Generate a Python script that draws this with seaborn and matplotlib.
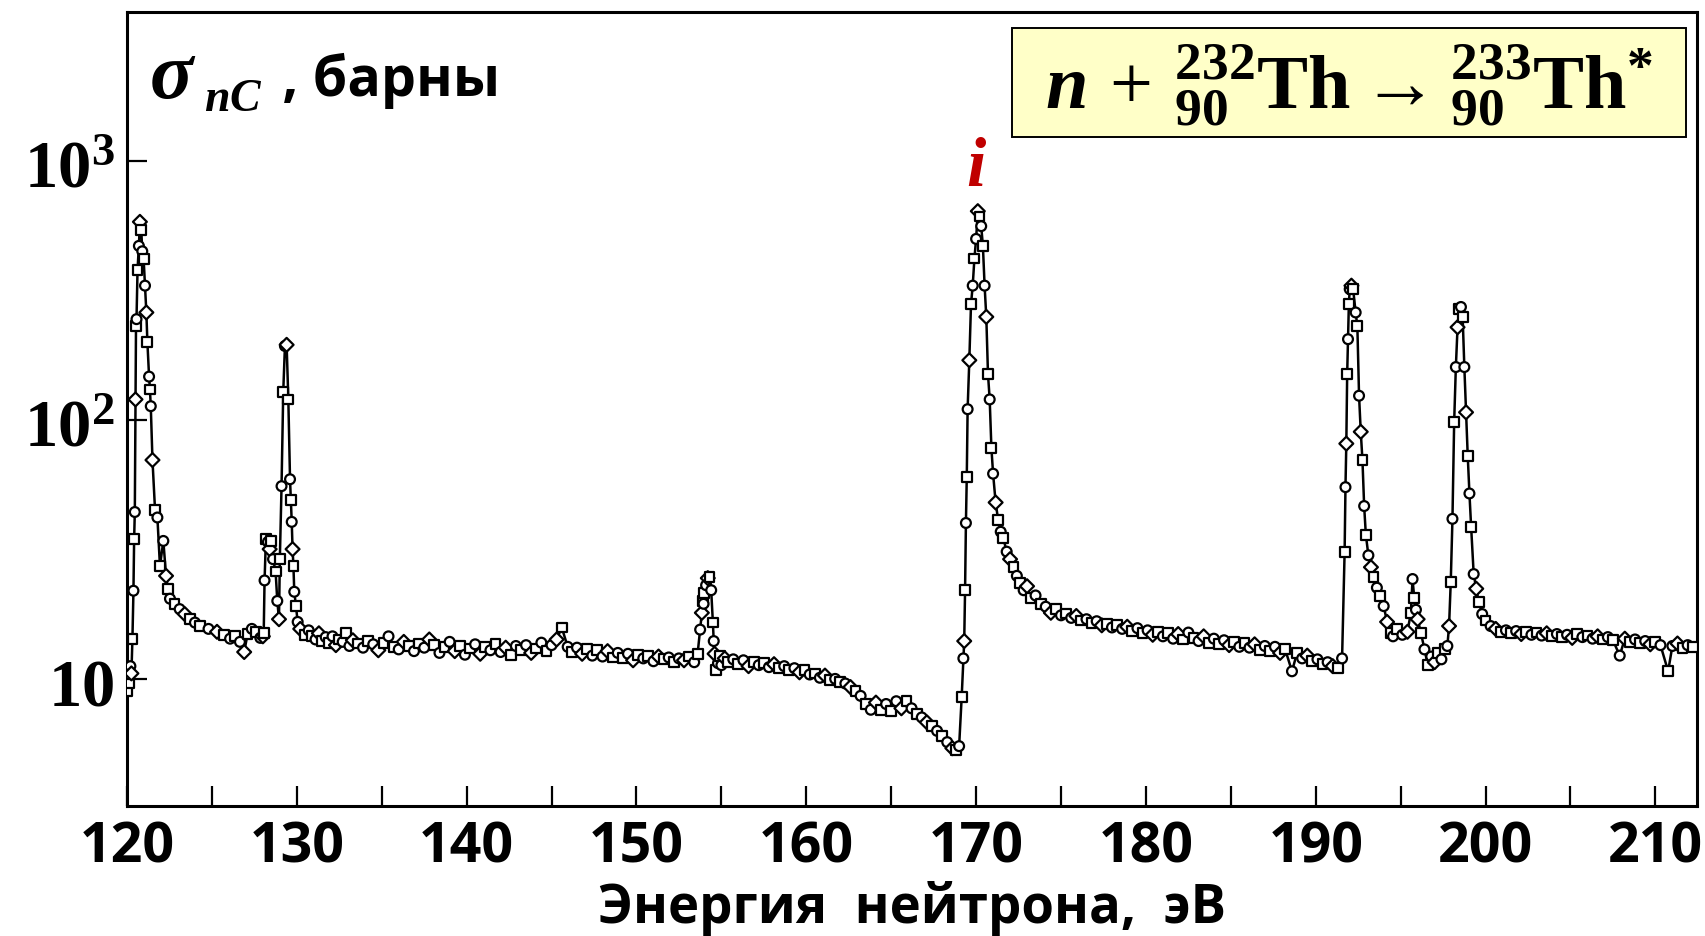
import matplotlib
matplotlib.use('Agg')
import matplotlib.pyplot as plt
from matplotlib.patches import Rectangle
from matplotlib.ticker import NullLocator, FixedLocator
import pandas as pd
import seaborn as sns

# energy, eV
energy = [
    120.02, 120.08, 120.14, 120.2, 120.26, 120.32, 120.38, 120.42, 120.46, 120.5,
    120.53, 120.56, 120.62, 120.7, 120.76, 120.84, 120.9, 120.98, 121.06, 121.14,
    121.2, 121.3, 121.35, 121.4, 121.5, 121.65, 121.79, 121.94, 122.14, 122.3,
    122.41, 122.53, 122.8, 123.1, 123.4, 123.7, 124.0, 124.3, 124.8, 125.3,
    125.7, 126.07, 126.35, 126.65, 126.9, 127.1, 127.35, 127.6, 127.85, 128.0,
    128.05, 128.1, 128.18, 128.3, 128.4, 128.5, 128.6, 128.75, 128.85, 128.95,
    129.0, 129.1, 129.2, 129.3, 129.4, 129.5, 129.6, 129.65, 129.7, 129.75,
    129.8, 129.85, 129.95, 130.05, 130.2, 130.5, 130.7, 130.9, 131.1, 131.3,
    131.5, 131.7, 131.9, 132.1, 132.3, 132.5, 132.7, 132.9, 133.1, 133.3,
    133.6, 133.9, 134.2, 134.5, 134.8, 135.1, 135.4, 135.7, 136.0, 136.3,
    136.6, 136.9, 137.2, 137.5, 137.8, 138.1, 138.4, 138.7, 139.0, 139.3,
    139.6, 139.9, 140.2, 140.5, 140.8, 141.1, 141.4, 141.7, 142.0, 142.3,
    142.6, 142.9, 143.2, 143.5, 143.8, 144.1, 144.4, 144.7, 145.0, 145.3,
    145.6, 145.95, 146.2, 146.5, 146.8, 147.1, 147.4, 147.7, 148.0, 148.3,
    148.6, 148.9, 149.2, 149.5, 149.8, 150.1, 150.4, 150.7, 151.0, 151.3,
    151.6, 151.9, 152.2, 152.5, 152.8, 153.1, 153.4, 153.6, 153.75, 153.85,
    153.9, 153.95, 154.0, 154.1, 154.2, 154.3, 154.4, 154.5, 154.55, 154.6,
    154.7, 154.8, 154.9, 155.0, 155.2, 155.4, 155.7, 156.0, 156.3, 156.6,
    156.9, 157.2, 157.5, 157.8, 158.1, 158.4, 158.7, 159.0, 159.3, 159.6,
    159.9, 160.2, 160.5, 160.8, 161.1, 161.4, 161.7, 162.0, 162.3, 162.6,
    162.9, 163.2, 163.5, 163.8, 164.1, 164.4, 164.7, 165.0, 165.3, 165.6,
    165.9, 166.2, 166.5, 166.8, 167.1, 167.4, 167.7, 168.0, 168.3, 168.6,
    168.8, 169.0, 169.15, 169.25, 169.3, 169.35, 169.4, 169.45, 169.5, 169.6,
    169.7, 169.8, 169.9, 170.0, 170.1, 170.2, 170.3, 170.4, 170.5, 170.6,
    170.7, 170.8, 170.9, 171.0, 171.15, 171.3, 171.45, 171.6, 171.8, 172.0,
    172.2, 172.4, 172.6, 172.8, 173.0, 173.2, 173.5, 173.8, 174.1, 174.4,
    174.7, 175.0, 175.3, 175.6, 175.9, 176.2, 176.5, 176.8, 177.1, 177.4,
    177.7, 178.0, 178.3, 178.6, 178.9, 179.2, 179.5, 179.8, 180.1, 180.4,
    180.7, 181.0, 181.3, 181.6, 181.9, 182.2, 182.5, 182.8, 183.1, 183.4,
    183.7, 184.0, 184.3, 184.6, 184.9, 185.2, 185.5, 185.8, 186.1, 186.4,
    186.7, 187.0, 187.3, 187.6, 187.9, 188.2, 188.6, 188.9, 189.2, 189.5,
    189.8, 190.1, 190.4, 190.7, 191.0, 191.3, 191.55, 191.7, 191.75, 191.8,
    191.85, 191.9, 191.95, 192.0, 192.1, 192.2, 192.35, 192.45, 192.55, 192.65,
    192.75, 192.85, 192.95, 193.1, 193.25, 193.4, 193.6, 193.8, 194.0, 194.2,
    194.4, 194.55, 194.8, 195.1, 195.4, 195.6, 195.7, 195.8, 195.9, 196.0,
    196.2, 196.4, 196.6, 196.8, 197.0, 197.2, 197.4, 197.6, 197.75, 197.85,
    197.95, 198.05, 198.15, 198.25, 198.35, 198.45, 198.55, 198.65, 198.75, 198.85,
    198.95, 199.05, 199.15, 199.3, 199.45, 199.6, 199.8, 200.0, 200.3, 200.6,
    200.9, 201.2, 201.5, 201.8, 202.1, 202.4, 202.7, 203.0, 203.3, 203.6,
    203.9, 204.2, 204.5, 204.8, 205.1, 205.4, 205.7, 206.0, 206.3, 206.6,
    206.9, 207.2, 207.5, 207.9, 208.2, 208.5, 208.8, 209.1, 209.4, 209.7,
    210.0, 210.3, 210.75, 211.0, 211.3, 211.6, 211.9, 212.2,
]

# capture cross section, barn
sigma = [
    9.0, 10.3, 9.6, 11.2, 10.5, 14.3, 21.9, 34.7, 44.1, 120,
    230, 245, 380, 470, 582, 540, 448, 418, 330, 260,
    200, 147, 131, 113, 70, 45, 42, 27.3, 34.1, 25.0,
    22.3, 20.4, 19.5, 18.6, 17.8, 17.0, 16.5, 16.0, 15.6, 15.2,
    14.8, 14.3, 14.6, 13.9, 12.7, 14.9, 15.6, 15.2, 14.4, 14.6,
    15.0, 24, 34.7, 33.8, 31.7, 34, 29, 26, 20, 17,
    29, 55.5, 128, 193, 195, 120, 59, 49, 40.4, 31.7,
    27.3, 21.7, 19.1, 16.6, 15.6, 14.8, 15.4, 14.6, 14.2, 15.0,
    14.0, 14.5, 13.8, 14.6, 13.5, 14.2, 13.9, 15.0, 13.4, 14.1,
    13.7, 13.2, 14.0, 13.6, 12.9, 13.8, 14.6, 13.3, 13.0, 13.9,
    13.4, 12.8, 13.7, 13.2, 14.2, 13.5, 12.6, 13.3, 13.9, 12.8,
    13.4, 12.4, 13.1, 13.6, 12.5, 13.3, 12.9, 13.6, 12.7, 13.2,
    12.4, 13.4, 12.9, 13.5, 12.6, 13.1, 13.8, 12.8, 13.5, 14.2,
    15.8, 13.3, 12.7, 13.2, 12.5, 13.0, 12.3, 12.9, 12.2, 12.8,
    12.1, 12.6, 12.0, 12.5, 11.8, 12.4, 12.0, 12.3, 11.7, 12.2,
    11.9, 12.1, 11.6, 12.0, 11.8, 12.2, 11.6, 12.5, 15.5, 18.0,
    20.0, 19.5, 21.5, 23.0, 24.5, 24.8, 22.0, 16.5, 14.0, 12.5,
    10.8, 11.5, 12.3, 11.3, 12.0, 11.6, 11.9, 11.4, 11.8, 11.2,
    11.6, 11.3, 11.5, 11.1, 11.4, 11.0, 11.2, 10.8, 11.0, 10.6,
    10.8, 10.4, 10.5, 10.1, 10.3, 9.9, 10.0, 9.7, 9.6, 9.3,
    9.0, 8.6, 8.0, 7.6, 8.1, 7.6, 8.0, 7.5, 8.2, 7.7,
    8.2, 7.7, 7.3, 7.1, 6.8, 6.6, 6.3, 6.0, 5.7, 5.4,
    5.3, 5.5, 8.5, 12.0, 14.0, 22.0, 40, 60, 110, 170,
    280, 330, 420, 500, 640, 610, 560, 470, 330, 250,
    150, 120, 78, 62, 48, 41, 37, 35, 31, 29,
    27, 25, 23.5, 22.0, 22.8, 20.5, 21.0, 19.5, 19.0, 18.0,
    18.6, 17.6, 17.9, 17.2, 17.5, 16.8, 17.0, 16.4, 16.7, 16.1,
    16.3, 15.8, 16.2, 15.6, 15.9, 15.3, 15.7, 15.0, 15.4, 14.8,
    15.2, 14.6, 15.0, 14.3, 14.9, 14.2, 15.1, 14.4, 14.0, 14.6,
    13.8, 14.3, 13.6, 14.1, 13.5, 13.9, 13.3, 13.8, 13.2, 13.6,
    12.9, 13.4, 12.8, 13.3, 12.6, 13.0, 10.7, 12.6, 12.0, 12.3,
    11.7, 11.9, 11.4, 11.6, 11.2, 11.0, 12.0, 31, 55, 81,
    150, 205, 280, 320, 330, 320, 260, 230, 124, 90,
    70, 46.5, 36, 30, 27, 24.8, 22.5, 20.9, 19.1, 16.6,
    15.0, 14.6, 15.6, 14.8, 15.2, 18.0, 24.3, 20.5, 18.5, 17.0,
    15.0, 13.0, 11.3, 12.2, 11.6, 12.6, 11.9, 13.0, 13.4, 16.0,
    23.7, 41.5, 98, 160, 228, 268, 273, 250, 160, 107,
    72.5, 52, 38.6, 25.4, 22.3, 19.8, 17.8, 16.8, 16.0, 15.6,
    15.2, 15.4, 15.0, 15.3, 14.9, 15.2, 14.8, 15.1, 14.7, 15.0,
    14.6, 14.9, 14.5, 14.8, 14.4, 14.9, 14.5, 14.7, 14.3, 14.6,
    14.2, 14.5, 14.1, 12.3, 14.3, 13.9, 14.2, 13.8, 14.0, 13.6,
    13.9, 13.5, 10.7, 13.4, 13.7, 13.2, 13.5, 13.3,
]

x_ticks = list(range(120, 211, 10))
x_ticks_minor = list(range(125, 211, 10))
y_ticks = [10, 100, 1000]
y_tick_labels = [r'$\mathbf{10}$', r'$\mathbf{10^2}$', r'$\mathbf{10^3}$']
marker_cycle = ['s', 'o', 's', 'o', 'D']

df = pd.DataFrame({'E': energy, 'sigma': sigma})
df['shape'] = [marker_cycle[i % len(marker_cycle)] for i in range(len(df))]

sns.set_style('white')
plt.rcParams['text.color'] = 'black'
plt.rcParams['axes.labelcolor'] = 'black'
plt.rcParams['xtick.color'] = 'black'
plt.rcParams['ytick.color'] = 'black'
plt.rcParams['mathtext.fontset'] = 'custom'
plt.rcParams['mathtext.rm'] = 'Liberation Serif'
plt.rcParams['mathtext.bf'] = 'Liberation Serif:bold'
plt.rcParams['mathtext.it'] = 'Liberation Serif:italic:bold'

fig = plt.figure(figsize=(17.06, 9.37), dpi=100)
ax = fig.add_axes([127 / 1706, 1 - 807 / 937, 1570 / 1706, 794 / 937])

sns.lineplot(data=df, x='E', y='sigma', sort=False, estimator=None,
             color='black', linewidth=1.8, ax=ax)
sns.scatterplot(data=df, x='E', y='sigma', style='shape',
                markers={'s': 's', 'o': 'o', 'D': 'D'}, color='white',
                edgecolor='black', linewidth=1.6, s=50, legend=False,
                zorder=3, ax=ax)

ax.set_yscale('log')
ax.set_xlim(120, 212.45)
ax.set_ylim(3.23, 3760)

ax.set_xticks(x_ticks, labels=[str(t) for t in x_ticks],
              fontfamily='Open Sans', fontweight='bold', fontsize=40)
ax.xaxis.set_minor_locator(FixedLocator(x_ticks_minor))
ax.set_yticks(y_ticks, labels=y_tick_labels, fontsize=48)
ax.yaxis.set_minor_locator(NullLocator())
ax.tick_params(axis='both', which='both', direction='in', length=14.5,
               width=1.6, bottom=True, left=True, top=False, right=False,
               colors='black')
ax.tick_params(axis='x', which='major', pad=10)
ax.tick_params(axis='y', which='major', pad=9)
for sp in ax.spines.values():
    sp.set_linewidth(2.2)
    sp.set_color('black')

ax.set_xlabel('Энергия  нейтрона,  эВ', fontfamily='Open Sans',
              fontweight='bold', fontsize=38, labelpad=4, color='black')
ax.set_ylabel('')

# y-axis title inside the frame
ax.text(0.014, 0.893, r'$\mathit{\sigma}$', transform=ax.transAxes,
        fontsize=58, va='baseline', ha='left', color='black')
ax.text(0.049, 0.876, r'$\mathit{nC}$', transform=ax.transAxes,
        fontsize=33, va='baseline', ha='left', color='black')
ax.text(0.090, 0.895, ' , барны', transform=ax.transAxes, fontsize=40,
        fontfamily='Open Sans', fontweight='bold', va='baseline', ha='left',
        color='black')

# reaction box
ax.add_patch(Rectangle((0.564, 0.8426), 0.429, 0.1374, transform=ax.transAxes,
                       facecolor='#ffffc8', edgecolor='black', linewidth=1.4,
                       zorder=4))
ax.text(0.7785, 0.909,
        r'$\mathit{n}\,+\,{}^{\mathbf{232}}_{\mathbf{90}}\mathbf{Th}\rightarrow'
        r'{}^{\mathbf{233}}_{\mathbf{90}}\mathbf{Th}^{\mathbf{*}}$',
        transform=ax.transAxes, fontsize=55, ha='center', va='center',
        color='black', zorder=5)

ax.text(170.05, 960, r'$\mathit{i}$', color='#c00000', fontsize=50,
        ha='center', va='center')

fig.savefig('out.png', dpi=100)
